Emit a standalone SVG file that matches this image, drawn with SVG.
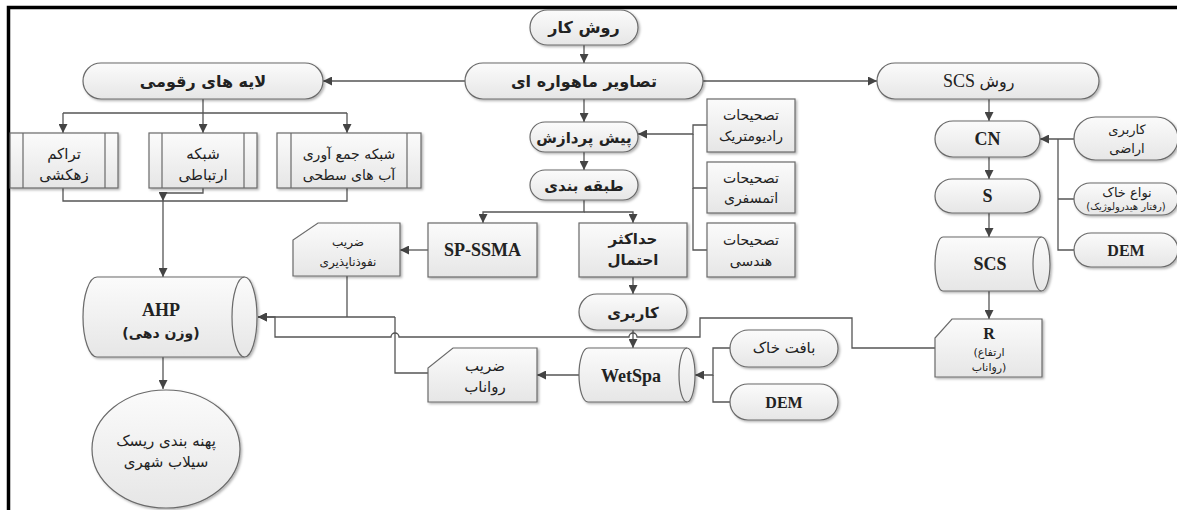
<svg xmlns="http://www.w3.org/2000/svg" width="1177" height="510" viewBox="0 0 1177 510">
<defs>
<linearGradient id="g" x1="0" y1="0" x2="0" y2="1">
<stop offset="0" stop-color="#fbfbfb"/>
<stop offset="1" stop-color="#e6e6e6"/>
</linearGradient>
<filter id="sh" x="-10%" y="-10%" width="130%" height="130%">
<feDropShadow dx="1.5" dy="1.5" stdDeviation="1" flood-color="#000" flood-opacity="0.3"/>
</filter>
<marker id="ar" viewBox="0 0 10 10" refX="10" refY="5" markerWidth="9" markerHeight="9" markerUnits="userSpaceOnUse" orient="auto">
<path d="M0,0 L10,5 L0,10 z" fill="#444"/>
</marker>
<style>
.n{fill:url(#g);stroke:#6a6a6a;stroke-width:1.2;filter:url(#sh)}
.il{fill:none;stroke:#6a6a6a;stroke-width:1.2}
.c{fill:none;stroke:#555;stroke-width:1.3}
.a{marker-end:url(#ar)}
.fa{font-family:"DejaVu Sans","Noto Sans",sans-serif;fill:#222;text-anchor:middle}
.b{font-weight:bold;font-size:16px}
.b2{font-weight:bold;font-size:15px}
.m{font-size:15px}
.r{font-size:14px}
.s{font-size:12px}
.t{font-size:10px}
.lat{font-family:"Liberation Serif","Times New Roman",serif;font-weight:bold;fill:#222;text-anchor:middle;font-size:18px}
</style>
</defs>
<rect width="1177" height="510" fill="#fff"/>
<path d="M8.5,510 L8.5,7.5 L1177,7.5" fill="none" stroke="#000" stroke-width="3.5"/>

<g id="connectors">
<path class="c a" d="M584,45 L584,63"/>
<path class="c a" d="M465,81 L323,81"/>
<path class="c a" d="M703,81 L877,81"/>
<path class="c a" d="M584,99 L584,122"/>
<path class="c a" d="M584,152 L584,170"/>
<path class="c a" d="M584,200 L584,212 L483,212 L483,223"/>
<path class="c a" d="M584,212 L633,212 L633,223"/>
<path class="c a" d="M707,125 L693,125 L693,134 L638,134"/>
<path class="c" d="M707,188 L693,188 L693,134"/>
<path class="c" d="M707,250 L693,250 L693,188"/>
<path class="c a" d="M428,250 L400,250"/>
<path class="c a" d="M633,277 L633,294"/>
<path class="c a" d="M633,330 L633,348"/>
<path class="c a" d="M579,375 L537,375"/>
<path class="c a" d="M730,348 L713,348 L713,375 L695,375"/>
<path class="c" d="M730,402 L713,402 L713,375"/>
<path class="c" d="M203,99 L203,113 M63,113 L347,113"/>
<path class="c a" d="M63,113 L63,133"/>
<path class="c a" d="M203,113 L203,133"/>
<path class="c a" d="M347,113 L347,133"/>
<path class="c" d="M63,188 L63,201 L347,201 L347,188"/>
<path class="c a" d="M203,188 L203,193 L163,193 L163,201"/>
<path class="c a" d="M163,201 L163,277"/>
<path class="c" d="M347,276 L347,317"/>
<path class="c a" d="M395,317 L258,317"/>
<path class="c" d="M428,373 L395,373 L395,317"/>
<path class="c a" d="M935,348 L852,348 L852,318 L700,318 L700,337 L637,337 A4,4 0 0 0 629,337 L399,337 A4,4 0 0 0 391,337 L275,337 L275,317 L258,317"/>
<path class="c a" d="M163,357 L163,389"/>
<path class="c a" d="M989,99 L989,121"/>
<path class="c a" d="M989,157 L989,179"/>
<path class="c a" d="M989,213 L989,237"/>
<path class="c a" d="M989,291 L989,319"/>
<path class="c a" d="M1074,139 L1058,139 L1040,139"/>
<path class="c" d="M1074,199 L1058,199 M1074,250 L1058,250 L1058,139"/>
</g>

<g id="ravesh-kar">
<rect class="n" x="530" y="10" width="108" height="35" rx="17.5"/>
<text class="fa b" x="584" y="33">روش کار</text>
</g>
<g id="tasavir">
<rect class="n" x="465" y="63" width="238" height="36" rx="18"/>
<text class="fa b" x="584" y="87">تصاویر ماهواره ای</text>
</g>
<g id="layeha">
<rect class="n" x="83" y="63" width="240" height="36" rx="18"/>
<text class="fa b" x="203" y="87">لایه های رقومی</text>
</g>
<g id="ravesh-scs">
<rect class="n" x="877" y="63" width="222" height="36" rx="18"/>
<text class="lat" x="959" y="87" style="font-weight:normal">SCS</text>
<text class="fa" x="997" y="87" font-size="16">روش</text>
</g>

<g id="tarakom">
<rect class="n" x="10" y="133" width="108" height="55"/>
<path class="il" d="M23,133 V188 M105,133 V188"/>
<text class="fa m" x="64" y="159">تراکم</text>
<text class="fa m" x="64" y="180">زهکشی</text>
</g>
<g id="shabake-ertebati">
<rect class="n" x="149" y="133" width="108" height="55"/>
<path class="il" d="M162,133 V188 M244,133 V188"/>
<text class="fa m" x="203" y="159">شبکه</text>
<text class="fa m" x="203" y="180">ارتباطی</text>
</g>
<g id="shabake-jam">
<rect class="n" x="277" y="133" width="144" height="55"/>
<path class="il" d="M291,133 V188 M407,133 V188"/>
<text class="fa r" x="349" y="159">شبکه جمع آوری</text>
<text class="fa r" x="349" y="180">آب های سطحی</text>
</g>

<g id="pish-pardazesh">
<rect class="n" x="530" y="122" width="108" height="30" rx="15"/>
<text class="fa b2" x="584" y="143">پیش پردازش</text>
</g>
<g id="tabaghe">
<rect class="n" x="530" y="170" width="108" height="30" rx="15"/>
<text class="fa b2" x="584" y="191">طبقه بندی</text>
</g>

<g id="rad">
<rect class="n" x="707" y="99" width="88" height="53"/>
<text class="fa r" x="751" y="120">تصحیحات</text>
<text class="fa r" x="751" y="141">رادیومتریک</text>
</g>
<g id="atm">
<rect class="n" x="707" y="162" width="88" height="51"/>
<text class="fa r" x="751" y="183">تصحیحات</text>
<text class="fa r" x="751" y="203">اتمسفری</text>
</g>
<g id="hendesi">
<rect class="n" x="707" y="223" width="88" height="54"/>
<text class="fa r" x="751" y="245">تصحیحات</text>
<text class="fa r" x="751" y="266">هندسی</text>
</g>

<g id="sp-ssma">
<rect class="n" x="428" y="223" width="109" height="54"/>
<text class="lat" x="482.5" y="256">SP-SSMA</text>
</g>
<g id="hadaksar">
<rect class="n" x="579" y="223" width="108" height="54"/>
<text class="fa b2" x="633" y="244">حداکثر</text>
<text class="fa b2" x="633" y="265">احتمال</text>
</g>
<g id="zarib-nofooz">
<path class="n" d="M318,223 L400,223 L400,276 L293,276 L293,240 Z"/>
<text class="fa s" x="348" y="246">ضریب</text>
<text class="fa s" x="348" y="266">نفوذناپذیری</text>
</g>
<g id="karbari">
<rect class="n" x="579" y="294" width="108" height="36" rx="18"/>
<text class="fa b2" x="633" y="318">کاربری</text>
</g>
<g id="wetspa">
<path class="n" d="M588,348 L687,348 A8,27 0 0 1 687,402 L588,402 A9,27 0 0 1 588,348 Z"/>
<path class="il" d="M687,348 A8,27 0 0 0 687,402"/>
<text class="lat" x="631" y="382">WetSpa</text>
</g>
<g id="zarib-ravanab">
<path class="n" d="M453,348 L537,348 L537,402 L428,402 L428,368 Z"/>
<text class="fa m" x="485" y="371">ضریب</text>
<text class="fa m" x="485" y="392">رواناب</text>
</g>
<g id="baft-khak">
<rect class="n" x="730" y="330" width="108" height="37" rx="18.5"/>
<text class="fa m" x="784" y="353">بافت خاک</text>
</g>
<g id="dem-wetspa">
<rect class="n" x="730" y="384" width="108" height="36" rx="18"/>
<text class="lat" x="784" y="408" style="font-size:16px">DEM</text>
</g>

<g id="ahp">
<path class="n" d="M97,277 L244.5,277 A12.5,40 0 0 1 244.5,357 L97,357 A14,40 0 0 1 97,277 Z"/>
<path class="il" d="M244.5,277 A12.5,40 0 0 0 244.5,357"/>
<text class="lat" x="161" y="316">AHP</text>
<text class="fa" x="161" y="338" style="font-weight:bold;font-size:14px">(وزن دهی)</text>
</g>
<g id="pahne">
<ellipse class="n" cx="166" cy="449" rx="74" ry="59"/>
<text class="fa m" x="166" y="446">پهنه بندی ریسک</text>
<text class="fa m" x="166" y="467">سیلاب شهری</text>
</g>

<g id="cn">
<rect class="n" x="935" y="121" width="105" height="36" rx="18"/>
<text class="lat" x="987.5" y="145">CN</text>
</g>
<g id="s">
<rect class="n" x="935" y="179" width="105" height="34" rx="17"/>
<text class="lat" x="987.5" y="202">S</text>
</g>
<g id="scs">
<path class="n" d="M943,237 L1041.5,237 A8.5,27 0 0 1 1041.5,291 L943,291 A8,27 0 0 1 943,237 Z"/>
<path class="il" d="M1041.5,237 A8.5,27 0 0 0 1041.5,291"/>
<text class="lat" x="990" y="270">SCS</text>
</g>
<g id="r">
<path class="n" d="M952,319 L1042,319 L1042,377 L935,377 L935,338 Z"/>
<text class="lat" x="989" y="339" style="font-size:16px">R</text>
<text class="fa" x="989" y="356" font-size="11">&#x200E;(ارتفاع</text>
<text class="fa" x="989" y="371" font-size="11">&#x200E;رواناب)</text>
</g>
<g id="karbari-arazi">
<rect class="n" x="1074" y="117" width="104" height="43" rx="21.5"/>
<text class="fa" x="1127" y="134" font-size="13">کاربری</text>
<text class="fa" x="1127" y="153" font-size="13">اراضی</text>
</g>
<g id="anvae-khak">
<rect class="n" x="1074" y="183" width="104" height="32" rx="16"/>
<text class="fa" x="1127" y="197" font-size="13">نواع خاک</text>
<text class="fa t" x="1126" y="210">&#x200E;(رفتار هیدرولوژیک)</text>
</g>
<g id="dem-scs">
<rect class="n" x="1074" y="233" width="104" height="34" rx="17"/>
<text class="lat" x="1126" y="256" style="font-size:16px">DEM</text>
</g>
</svg>
